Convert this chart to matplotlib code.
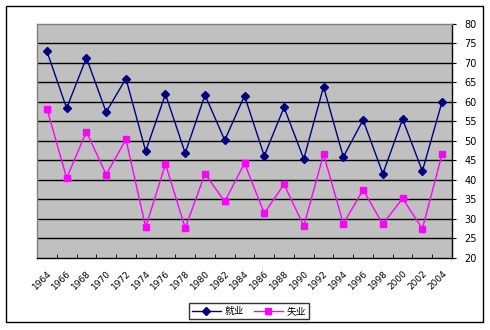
import matplotlib
matplotlib.use("Agg")
import matplotlib.pyplot as plt
from matplotlib.patches import Rectangle
import numpy as np

years = [str(y) for y in range(1964, 2005, 2)]
employment = [72.9, 58.3, 71.2, 57.3, 65.9, 47.3, 61.9, 46.8, 61.7, 50.1, 61.5,
              46.1, 58.5, 45.3, 63.8, 45.8, 55.3, 41.5, 55.5, 42.2, 60.0]
unemployment = [58.2, 40.4, 52.3, 41.3, 50.3, 27.8, 44.0, 27.6, 41.5, 34.4, 44.2,
                31.4, 38.8, 28.1, 46.5, 28.7, 37.4, 28.6, 35.2, 27.4, 46.6]
series_names = ["就业", "失业"]
yticks = list(range(20, 81, 5))

plt.rcParams['font.family'] = ['DejaVu Sans', 'Noto Sans CJK SC']

fig = plt.figure(figsize=(4.9, 3.3), dpi=100)
fig.patches.append(Rectangle((6/490, 1-322/330), 477/490, 316/330,
                             transform=fig.transFigure, fill=False,
                             edgecolor='black', linewidth=1.0))
ax = fig.add_axes([37/490, 1-257.7/330, (452-37)/490, (257.7-23.5)/330])
ax.set_facecolor('#C0C0C0')

x = np.arange(len(years))
ax.plot(x, employment, color='#000080', marker='D', markersize=4.5, linewidth=1.0,
        label=series_names[0], zorder=3)
ax.plot(x, unemployment, color='#FF00FF', marker='s', markersize=5, linewidth=1.0,
        label=series_names[1], zorder=3)

ax.set_xlim(-0.5, len(years) - 0.5)
ax.set_ylim(20, 80)
ax.set_yticks(yticks)
for v in yticks[1:-1]:
    ax.axhline(v, color='black', linewidth=1.0, zorder=1)

ax.yaxis.tick_right()
ax.tick_params(axis='y', direction='out', length=3, labelsize=7, pad=6, colors='black')
ax.set_xticks(x)
ax.set_xticklabels(years, rotation=45, ha='right', rotation_mode='anchor', fontsize=6.5)
ax.tick_params(axis='x', which='major', length=0, pad=8)
ax.set_xticks(np.arange(-0.5, len(years), 1), minor=True)
ax.tick_params(axis='x', which='minor', direction='in', length=3, color='black')

ax.spines['top'].set_color('#808080')
ax.spines['left'].set_color('#808080')
ax.spines['right'].set_color('black')
ax.spines['bottom'].set_color('black')
for s in ax.spines.values():
    s.set_linewidth(1.0)

leg = fig.legend(loc='center', bbox_to_anchor=(249/490, 1-311/330), ncol=2,
                 frameon=True, fancybox=False, edgecolor='black', fontsize=7,
                 handlelength=3, columnspacing=1.0, handletextpad=0.4,
                 borderpad=0.3, prop={'family': ['Noto Sans CJK SC'], 'size': 7})
leg.get_frame().set_linewidth(1.0)

fig.savefig('out.png', dpi=100)
